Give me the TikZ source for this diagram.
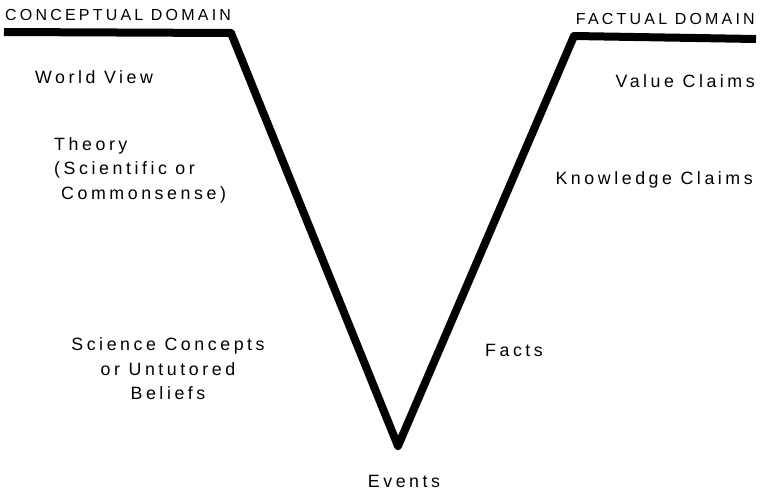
\documentclass[tikz,border=0pt]{standalone}
\usepackage{fontspec}
\newfontfamily\plotfont[LetterSpace=20]{Liberation Sans}
\tikzset{
  lbl/.style={font=\plotfont\fontsize{17.8}{24.5}\selectfont, inner sep=0pt, align=center},
  hdr/.style={font=\plotfont\fontsize{16}{18}\selectfont, inner sep=0pt},
  vline/.style={line width=8pt, line join=round, line cap=butt}
}
\begin{document}
\begin{tikzpicture}[x=1pt,y=-1pt]
\useasboundingbox (0,0) rectangle (760,491);
\coordinate (l0) at (4,32);
\coordinate (l1) at (231,33);
\coordinate (v) at (398,446);
\coordinate (r1) at (574,36);
\coordinate (r0) at (756,39);
\draw[vline] (l0) -- (l1) -- (v) -- (r1) -- (r0);
\node[hdr, anchor=west] (cd) at (5,15) {CONCEPTUAL DOMAIN};
\node[hdr, anchor=east] (fd) at (755,19) {FACTUAL DOMAIN};
\node[lbl, anchor=west] (wv) at (35,77) {World View};
\node[lbl, anchor=east] (vc) at (755,81) {Value Claims};
\node[lbl, align=left, anchor=north west] (th) at (54,137) {Theory\\(Scientific or\\\hspace*{7pt}Commonsense)};
\node[lbl, anchor=east] (kc) at (753,180) {Knowledge Claims};
\node[lbl] (sc) at (168,369) {Science Concepts\\or Untutored\\Beliefs};
\node[lbl] (fa) at (514,350) {Facts};
\node[lbl] (ev) at (404,481) {Events};
\end{tikzpicture}
\end{document}
